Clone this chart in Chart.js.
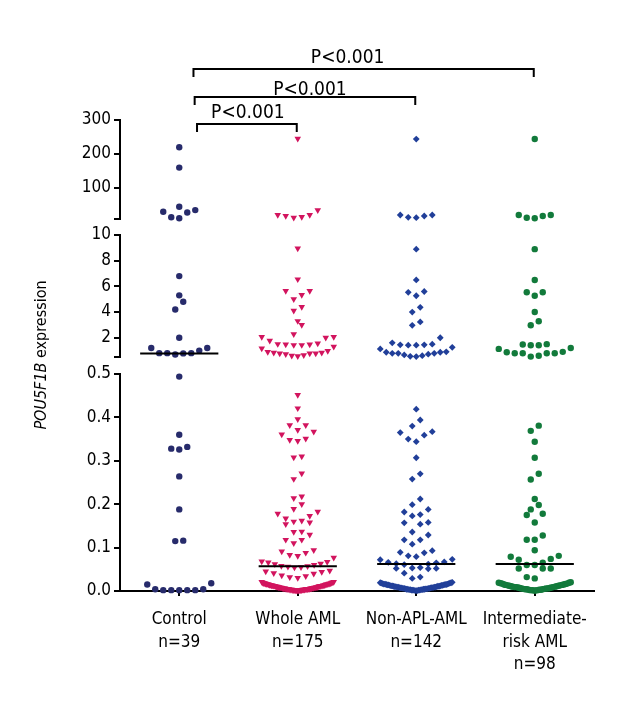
<!DOCTYPE html>
<html>
<head>
<meta charset="utf-8">
<script src="https://cdn.jsdelivr.net/npm/chart.js@4"></script>
<style>
  html, body { margin: 0; padding: 0; background: #fff; }
  #wrap { width: 640px; height: 720px; position: relative; }
</style>
</head>
<body>
<div id="wrap"><canvas id="dotChart"></canvas></div>
<script>
// groups and x labels
const groupNames = ["Control", "Whole AML", "Non-APL-AML", "Intermediate-risk AML"];
const xLabels = [["Control", "n=39"], ["Whole AML", "n=175"], ["Non-APL-AML", "n=142"], ["Intermediate-", "risk AML", "n=98"]];

// expression values
const control = [220, 160, 45, 35, 30, 28, 14, 11,
  6.8, 5.3, 4.8, 4.2, 2.0, 1.2, 1.0, 0.8, 0.78, 0.7, 0.8, 0.8, 1.2,
  0.494, 0.36, 0.332, 0.326, 0.328, 0.264, 0.188, 0.116, 0.115,
  0.018, 0.004, 0.002, 0.002, 0.002, 0.002, 0.002, 0.004, 0.015];

const wholeAml = [245, 35, 20.6, 20.6, 17.6, 14.7, 12.6,
  8.96, 6.55, 5.64, 5.64, 5.33, 5.0, 4.4, 4.1, 3.3, 3.0, 2.27,
  2.07, 2.0, 1.56, 1.48, 1.43, 1.43, 1.48, 1.51, 1.77, 2.07,
  1.3, 0.98, 0.83, 0.78, 0.78, 0.64, 0.56, 0.6, 0.72, 0.78, 0.83, 0.9, 1.17,
  0.452, 0.421, 0.396, 0.382, 0.382, 0.371, 0.361, 0.367, 0.348, 0.346, 0.351,
  0.308, 0.310, 0.271, 0.258, 0.214, 0.218, 0.200, 0.189, 0.183, 0.173, 0.178,
  0.162, 0.158, 0.160, 0.154, 0.167, 0.137, 0.136, 0.118, 0.110, 0.118, 0.130,
  0.091, 0.083, 0.077, 0.081, 0.088, 0.094,
  0.068, 0.066, 0.062, 0.060, 0.058, 0.057, 0.055, 0.054, 0.056, 0.063, 0.067,
  0.047, 0.044, 0.040, 0.036, 0.032, 0.030, 0.034, 0.041, 0.045, 0.021, 0.021,
  0.001, 0.002, 0.001, 0.003, 0.002, 0.004, 0.002, 0.003, 0.005, 0.001,
  0.004, 0.006, 0.003, 0.002, 0.007, 0.005, 0.004, 0.008, 0.003, 0.006,
  0.009, 0.005, 0.002, 0.010, 0.007, 0.004, 0.011, 0.006, 0.008, 0.012,
  0.003, 0.009, 0.013, 0.005, 0.010, 0.014, 0.007, 0.011, 0.015, 0.006,
  0.012, 0.016, 0.008, 0.013, 0.017, 0.009, 0.014, 0.018, 0.004, 0.015,
  0.019, 0.010, 0.016, 0.020, 0.011, 0.017, 0.012, 0.018, 0.013, 0.019,
  0.014, 0.015, 0.016, 0.002, 0.006, 0.009, 0.012, 0.017, 0.003, 0.008,
  0.001, 0.013, 0.018];

const nonApl = [244, 20.6, 20.6, 17.6, 13.8, 12.6,
  8.9, 6.5, 5.54, 5.27, 5.6, 4.37, 4.0, 3.23, 2.97, 2.0,
  1.5, 1.45, 1.42, 1.42, 1.45, 1.6, 1.25,
  1.13, 0.87, 0.79, 0.79, 0.66, 0.53, 0.55, 0.6, 0.72, 0.79, 0.87, 0.9,
  0.419, 0.394, 0.380, 0.365, 0.367, 0.350, 0.344, 0.359, 0.307, 0.270, 0.258,
  0.212, 0.199, 0.188, 0.182, 0.176, 0.173, 0.154, 0.157, 0.158, 0.136,
  0.129, 0.118, 0.118, 0.108, 0.089, 0.081, 0.088, 0.093, 0.073, 0.072, 0.079,
  0.067, 0.065, 0.062, 0.061, 0.063, 0.066, 0.053, 0.052, 0.051, 0.052, 0.054,
  0.041, 0.029, 0.032,
  0.002, 0.001, 0.003, 0.002, 0.004, 0.001, 0.005, 0.003, 0.002, 0.006,
  0.004, 0.007, 0.003, 0.005, 0.008, 0.002, 0.006, 0.009, 0.004, 0.010,
  0.007, 0.011, 0.005, 0.008, 0.012, 0.003, 0.009, 0.013, 0.006, 0.010,
  0.014, 0.007, 0.011, 0.015, 0.004, 0.012, 0.016, 0.008, 0.013, 0.017,
  0.009, 0.014, 0.018, 0.010, 0.015, 0.019, 0.011, 0.016, 0.020, 0.012,
  0.017, 0.013, 0.018, 0.014, 0.019, 0.001, 0.006, 0.015, 0.002, 0.009, 0.016];

const intermediate = [244, 20.6, 20.6, 17.6, 12.6, 11,
  8.9, 6.5, 5.54, 5.27, 5.54, 4.0, 3.28, 2.97,
  1.5, 1.42, 1.42, 1.47,
  1.13, 0.87, 0.79, 0.79, 0.53, 0.6, 0.79, 0.79, 0.9, 1.2,
  0.381, 0.369, 0.344, 0.307, 0.257, 0.270, 0.212, 0.198, 0.178, 0.175, 0.188,
  0.158, 0.128, 0.118, 0.118, 0.094, 0.074, 0.081, 0.079, 0.072,
  0.065, 0.060, 0.060, 0.052, 0.052, 0.052, 0.032, 0.029,
  0.001, 0.003, 0.002, 0.004, 0.001, 0.005, 0.003, 0.006, 0.002, 0.007,
  0.004, 0.008, 0.005, 0.009, 0.003, 0.010, 0.006, 0.011, 0.007, 0.012,
  0.004, 0.013, 0.008, 0.014, 0.009, 0.015, 0.010, 0.016, 0.011, 0.017,
  0.012, 0.018, 0.013, 0.019, 0.014, 0.020, 0.002, 0.015, 0.006, 0.017, 0.009, 0.019];

// broken y axis: top, middle, bottom pieces
const topTicks = [10, 100, 200, 300];
const midTicks = [0.5, 2, 4, 6, 8, 10];
const lowTicks = [0, 0.1, 0.2, 0.3, 0.4, 0.5];

// comparisons drawn above the plot
const pTargets = [3, 2, 1];
const pLabels = ["P<0.001", "P<0.001", "P<0.001"];

const yTitleItalic = "POU5F1B";
const yTitleRest = " expression";

const FONT = "'Liberation Sans Narrow', 'DejaVu Sans Condensed', sans-serif";
const allValues = [control, wholeAml, nonApl, intermediate];
const colors = ["#272b6b", "#d2145e", "#213f99", "#127a3b"];
const shapes = ["circle", "triangle", "rectRot", "circle"];
const rotations = [0, 180, 0, 0];
const radii = [3.2, 3.8, 3.4, 3.2];

function axisFor(v) {
  if (v >= 10) return "yTop";
  if (v > 0.5) return "yMid";
  return "yLow";
}

function median(arr) {
  const s = arr.slice().sort((a, b) => a - b);
  const m = Math.floor(s.length / 2);
  return s.length % 2 ? s[m] : (s[m - 1] + s[m]) / 2;
}

const datasets = [];

// median bars first so they sit on top of the dots
allValues.forEach(function (vals, g) {
  const med = median(vals);
  datasets.push({
    type: "line",
    data: [{ x: g - 0.33, y: med }, { x: g + 0.33, y: med }],
    yAxisID: axisFor(med),
    borderColor: "#000",
    borderWidth: 2,
    pointRadius: 0,
    clip: false
  });
});

allValues.forEach(function (vals, g) {
  ["yTop", "yMid", "yLow"].forEach(function (axis) {
    const part = vals.filter(v => axisFor(v) === axis);
    datasets.push({
      group: g,
      data: part.map(v => ({ x: g, y: v })),
      yAxisID: axis,
      pointStyle: shapes[g],
      rotation: rotations[g],
      radius: radii[g],
      backgroundColor: colors[g],
      borderColor: colors[g],
      borderWidth: 0,
      clip: false
    });
  });
});

function yAxis(min, max, ticks, weight, fmt) {
  return {
    type: "linear",
    position: "left",
    stack: "y",
    stackWeight: weight,
    min: min,
    max: max,
    afterBuildTicks: function (s) { s.ticks = ticks.map(v => ({ value: v })); },
    afterFit: function (s) { s.width = 120; },
    border: { display: true, color: "#000", width: 2 },
    grid: { display: true, drawOnChartArea: false, drawTicks: true, tickLength: 6, color: "#000", lineWidth: 2 },
    ticks: { color: "#000", padding: 3, autoSkip: false, font: { family: FONT, size: 17 }, callback: fmt }
  };
}

function gapAxis(weight) {
  return {
    type: "linear",
    position: "left",
    stack: "y",
    stackWeight: weight,
    min: 0,
    max: 1,
    afterFit: function (s) { s.width = 120; },
    border: { display: false },
    grid: { display: false },
    ticks: { display: false }
  };
}

const bracketPlugin = {
  id: "brackets",
  afterDraw: function (chart) {
    const ctx = chart.ctx;
    const x = chart.scales.x;
    const lineY = [69, 97, 124];
    const startOff = [0.12, 0.13, 0.15];
    const textDx = [-16, 5, 1];
    const textDy = [-6, -2, -6];
    ctx.save();
    ctx.strokeStyle = "#000";
    ctx.lineWidth = 2;
    ctx.fillStyle = "#000";
    ctx.font = "19px " + FONT;
    ctx.textAlign = "center";
    ctx.textBaseline = "alphabetic";
    pTargets.forEach(function (t, i) {
      const x0 = x.getPixelForValue(startOff[i]);
      const x1 = x.getPixelForValue(t) - 1;
      const y = lineY[i];
      ctx.beginPath();
      ctx.moveTo(x0, y + 8);
      ctx.lineTo(x0, y);
      ctx.lineTo(x1, y);
      ctx.lineTo(x1, y + 8);
      ctx.stroke();
      ctx.fillText(pLabels[i], (x0 + x1) / 2 + textDx[i], y + textDy[i]);
    });
    ctx.restore();
  }
};

const yTitlePlugin = {
  id: "yTitle",
  afterDraw: function (chart) {
    const ctx = chart.ctx;
    ctx.save();
    ctx.translate(42, 355);
    ctx.rotate(-Math.PI / 2);
    ctx.fillStyle = "#000";
    ctx.textBaseline = "middle";
    ctx.textAlign = "left";
    const italic = "italic 16px " + FONT;
    const normal = "16px " + FONT;
    ctx.font = italic;
    const w1 = ctx.measureText(yTitleItalic).width;
    ctx.font = normal;
    const w2 = ctx.measureText(yTitleRest).width;
    const x0 = -(w1 + w2) / 2;
    ctx.font = italic;
    ctx.fillText(yTitleItalic, x0, 0);
    ctx.font = normal;
    ctx.fillText(yTitleRest, x0 + w1, 0);
    ctx.restore();
  }
};

// spread dots sideways like a dot plot: rows of near-equal values, lowest in the middle
function spreadPoints(chart) {
  const xScale = chart.scales.x;
  const unit = xScale.getPixelForValue(1) - xScale.getPixelForValue(0);
  chart.data.datasets.forEach(function (ds) {
    if (ds.group === undefined) return;
    const yScale = chart.scales[ds.yAxisID];
    const pts = ds.data.map(p => ({ p: p, py: yScale.getPixelForValue(p.y) }));
    pts.sort((a, b) => b.py - a.py);
    let i = 0;
    while (i < pts.length) {
      let j = i;
      while (j < pts.length && pts[i].py - pts[j].py < 10) j++;
      const n = j - i;
      const gap = n > 1 ? Math.min(8, 72 / (n - 1)) : 0;
      const slots = [];
      for (let k = 0; k < n; k++) slots.push((k - (n - 1) / 2) * gap);
      slots.sort((a, b) => Math.abs(a) - Math.abs(b) || a - b);
      for (let k = 0; k < n; k++) pts[i + k].p.x = ds.group + slots[k] / unit;
      i = j;
    }
  });
  chart.update("none");
}

const ctx = document.getElementById("dotChart").getContext("2d");
const dotChart = new Chart(ctx, {
  type: "scatter",
  data: { datasets: datasets },
  options: {
    responsive: true,
    maintainAspectRatio: false,
    animation: false,
    layout: { padding: { left: 0, top: 120, right: 46, bottom: 0 } },
    plugins: { legend: { display: false }, tooltip: { enabled: false } },
    scales: {
      x: {
        type: "linear",
        position: "bottom",
        min: -0.5,
        max: 3.5,
        afterBuildTicks: function (s) { s.ticks = groupNames.map((n, i) => ({ value: i })); },
        afterFit: function (s) { s.height = 129; },
        border: { display: true, color: "#000", width: 2 },
        grid: { display: true, drawOnChartArea: false, drawTicks: true, tickLength: 5, color: "#000", lineWidth: 2 },
        ticks: {
          color: "#000",
          padding: 13,
          maxRotation: 0,
          autoSkip: false,
          font: { family: FONT, size: 17, lineHeight: 1.3 },
          callback: function (v, i) { return xLabels[i]; }
        }
      },
      // stacked pieces are placed bottom-up in this order
      yLow: yAxis(0, 0.5, lowTicks, 217, v => v.toFixed(1)),
      gap2: gapAxis(17),
      yMid: yAxis(0.5, 10, midTicks, 122, v => (v === 0.5 ? "" : String(v))),
      gap1: gapAxis(16.4),
      yTop: yAxis(10, 300, topTicks, 98.6, v => (v === 10 ? "" : String(v)))
    }
  },
  plugins: [bracketPlugin, yTitlePlugin]
});

spreadPoints(dotChart);
</script>
</body>
</html>
